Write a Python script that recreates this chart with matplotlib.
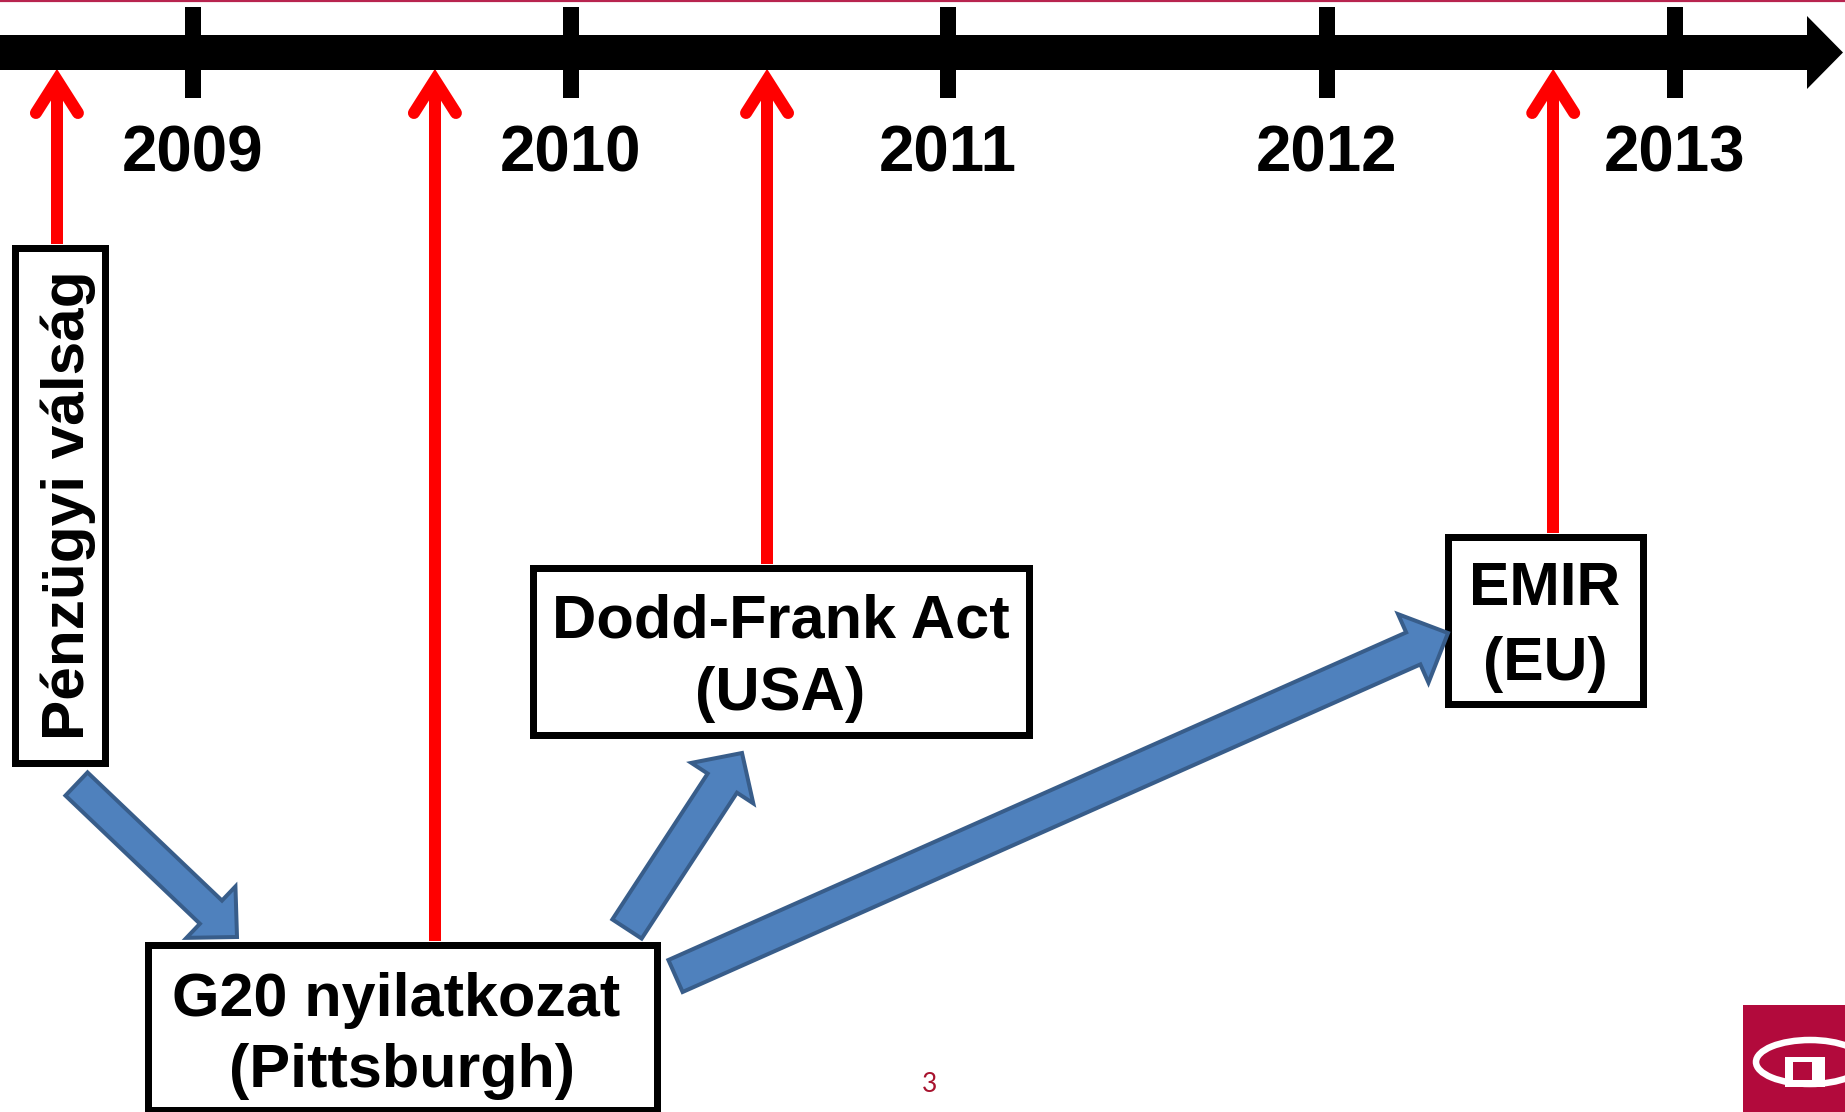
import matplotlib

matplotlib.use("Agg")
import matplotlib.pyplot as plt
import numpy as np
from matplotlib.patches import Ellipse, FancyArrow, Rectangle

# --- data -------------------------------------------------------------
YEARS = [2009, 2010, 2011, 2012, 2013]
YEAR_LABELS = ["2009", "2010", "2011", "2012", "2013"]

EVENT_NAMES = ["Pénzügyi válság", "G20 nyilatkozat", "Dodd-Frank Act", "EMIR"]
EVENT_SUBTITLES = ["", "(Pittsburgh)", "(USA)", "(EU)"]
EVENT_TIMES = [2008.64, 2009.64, 2010.52, 2012.65]

FLOW_FROM = ["Pénzügyi válság", "G20 nyilatkozat", "G20 nyilatkozat"]
FLOW_TO = ["G20 nyilatkozat", "Dodd-Frank Act", "EMIR"]

PAGE_NUMBER = "3"

# --- layout (pixel canvas) ------------------------------------------------
W, H = 1845, 1112
TICK_PX = [193, 571, 948, 1327, 1675]
BAR_Y, BAR_H = 52.5, 35

# outer box edges: x0, y0, x1, y1
BOXES = {
    "Pénzügyi válság": (11, 244, 108, 766),
    "G20 nyilatkozat": (144, 941, 660, 1113),
    "Dodd-Frank Act": (529, 564, 1032, 738),
    "EMIR": (1444, 533, 1646, 707),
}
# baselines for title / subtitle lines, x shift of the title line, font size
TEXT_POS = {
    "G20 nyilatkozat": (1016, 1087, -6, 44.0),
    "Dodd-Frank Act": (637, 710, 0, 44.2),
    "EMIR": (605, 680, 0, 43.7),
}
# tail, tip, shaft width, head width, head length
FLOW_GEOM = [
    ((76.5, 784), (237, 937), 32, 71, 36),
    ((627, 929), (742, 753), 35, 74, 36),
    ((675.5, 976), (1448, 633), 35, 75, 38),
]

RED = "#FF0000"
BLUE_FILL = "#4F81BD"
BLUE_EDGE = "#385D8A"
CRIMSON = "#B20A3C"
PX = 0.72  # points per pixel at dpi 100


def year_to_px(t):
    if t < YEARS[0]:
        slope = (TICK_PX[1] - TICK_PX[0]) / (YEARS[1] - YEARS[0])
        return TICK_PX[0] + (t - YEARS[0]) * slope
    return float(np.interp(t, YEARS, TICK_PX))


plt.rcParams["font.family"] = ["Liberation Sans", "DejaVu Sans"]

fig = plt.figure(figsize=(W / 100, H / 100), dpi=100)
ax = fig.add_axes([0, 0, 1, 1])
ax.set_xlim(0, W)
ax.set_ylim(H, 0)
ax.axis("off")

# thin crimson line at the very top
ax.axhline(1.2, color="#B8244F", lw=2.2 * PX, zorder=1)

# timeline bar with arrow head
ax.add_patch(FancyArrow(0, BAR_Y, W - 2, 0, width=BAR_H, head_width=73,
                        head_length=36, length_includes_head=True,
                        color="black", lw=0, zorder=3))
ax.vlines(TICK_PX, 7, 98, color="black", lw=16 * PX, zorder=3)
for x, lab in zip(TICK_PX, YEAR_LABELS):
    ax.text(x, 172, lab, ha="center", va="baseline", fontsize=45.8,
            fontweight="bold", zorder=4)

# red event arrows
for name, t in zip(EVENT_NAMES, EVENT_TIMES):
    x = year_to_px(t)
    bottom = BOXES[name][1]
    ax.plot([x, x], [86, bottom], color=RED, lw=12 * PX,
            solid_capstyle="butt", zorder=2)
    ax.plot([x - 21, x, x + 21], [113, 80, 113], color=RED, lw=12 * PX,
            solid_capstyle="round", solid_joinstyle="miter", zorder=2)

# event boxes
for name, sub in zip(EVENT_NAMES, EVENT_SUBTITLES):
    x0, y0, x1, y1 = BOXES[name]
    lw = 7
    ax.add_patch(Rectangle((x0 + lw / 2, y0 + lw / 2), x1 - x0 - lw,
                           y1 - y0 - lw, facecolor="white", edgecolor="black",
                           lw=lw * PX, zorder=5))
    cx = (x0 + x1) / 2
    if name in TEXT_POS:
        b1, b2, dx, fs = TEXT_POS[name]
        ax.text(cx + dx, b1, name, ha="center", va="baseline", fontsize=fs,
                fontweight="bold", zorder=6)
        ax.text(cx, b2, sub, ha="center", va="baseline", fontsize=fs,
                fontweight="bold", zorder=6)
    else:
        ax.text(84, (y0 + y1) / 2, name, rotation=90, rotation_mode="anchor",
                ha="center", va="baseline", fontsize=43.5,
                fontweight="bold", zorder=6)

# blue flow arrows
for (tail, tip, w, hw, hl) in FLOW_GEOM:
    ax.add_patch(FancyArrow(tail[0], tail[1], tip[0] - tail[0],
                            tip[1] - tail[1], width=w, head_width=hw,
                            head_length=hl, length_includes_head=True,
                            facecolor=BLUE_FILL, edgecolor=BLUE_EDGE,
                            lw=4 * PX, joinstyle="miter", zorder=7))

# page number
ax.text(930, 1092, PAGE_NUMBER, ha="center", va="baseline", fontsize=19,
        color="#A8132E", family=["Lato", "DejaVu Sans"], zorder=6)

# logo in the bottom right corner
ax.add_patch(Rectangle((1743, 1005), W - 1743, H - 1005, facecolor=CRIMSON,
                       lw=0, zorder=6))
ax.add_patch(Ellipse((1810, 1062), 108, 44, facecolor="none",
                     edgecolor="white", lw=6.5 * PX, zorder=7))
ax.add_patch(Rectangle((1785, 1057), 40, 30, facecolor="white", lw=0,
                       zorder=7))
ax.add_patch(Rectangle((1793, 1062), 19, 18, facecolor=CRIMSON, lw=0,
                       zorder=8))

fig.savefig("out.png", dpi=100, facecolor="white")
plt.close(fig)
